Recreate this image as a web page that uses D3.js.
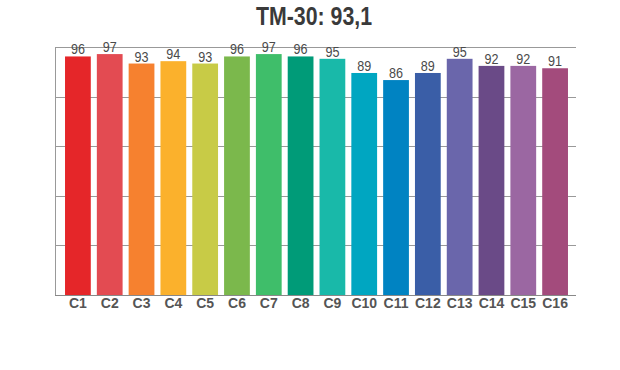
<!DOCTYPE html>
<html lang="en">
<head>
<meta charset="UTF-8">
<title>TM-30</title>
<script src="https://cdn.jsdelivr.net/npm/d3@7"></script>
<style>
  body { margin: 0; background: #fff; }
  svg { font-family: "Liberation Sans", Arial, sans-serif; }
</style>
</head>
<body>
<div id="chart"></div>
<script>
// data
const categories = ["C1","C2","C3","C4","C5","C6","C7","C8","C9","C10","C11","C12","C13","C14","C15","C16"];
const values = [96, 97, 93, 94, 93, 96, 97, 96, 95, 89, 86, 89, 95, 92, 92, 91];
const colors = ["#e52629","#e34b52","#f6812f","#fbb12c","#c8cb46","#7bb84c","#3fbe6a","#009b78",
                "#19b9a9","#00a6c1","#0083c2","#3a5ea7","#6a66ab","#6a4a87","#9b67a2","#a34b7c"];
const gridValues = [-5, 16, 37, 58, 79, 100];
const title = "TM-30: 93,1";

const W = 620, H = 370;
const plotLeft = 55, plotRight = 576, plotTop = 47, plotBottom = 295;

const svg = d3.select("#chart").append("svg")
    .attr("width", W)
    .attr("height", H);

const x = d3.scaleBand()
    .domain(categories)
    .range([62, 571])
    .paddingInner(0.19)
    .paddingOuter(0.095);

const y = d3.scaleLinear()
    .domain([-5, 100])
    .range([plotBottom, plotTop]);

// gridlines
svg.append("g")
    .selectAll("line")
    .data(gridValues)
    .join("line")
      .attr("x1", plotLeft)
      .attr("x2", plotRight)
      .attr("y1", d => Math.round(y(d)) + 0.5)
      .attr("y2", d => Math.round(y(d)) + 0.5)
      .attr("stroke", d => d === gridValues[0] ? "#888" : "#999")
      .attr("stroke-width", 1);

// left axis line
svg.append("line")
    .attr("x1", plotLeft + 0.5).attr("x2", plotLeft + 0.5)
    .attr("y1", plotTop).attr("y2", plotBottom)
    .attr("stroke", "#999");

// bars
svg.append("g")
    .selectAll("rect")
    .data(values)
    .join("rect")
      .attr("x", (d, i) => x(categories[i]))
      .attr("y", d => y(d))
      .attr("width", x.bandwidth())
      .attr("height", d => y.range()[0] - y(d))
      .attr("fill", (d, i) => colors[i]);

// value labels (slightly condensed like the original)
svg.append("g")
    .selectAll("text")
    .data(values)
    .join("text")
      .attr("transform", (d, i) => `translate(${x(categories[i]) + x.bandwidth() / 2},${y(d) - 2}) scale(0.9,1)`)
      .attr("text-anchor", "middle")
      .attr("font-size", "14px")
      .attr("fill", "#4a4a4a")
      .text(d => d);

// category labels
svg.append("g")
    .selectAll("text")
    .data(categories)
    .join("text")
      .attr("x", d => x(d) + x.bandwidth() / 2)
      .attr("y", 307.5)
      .attr("text-anchor", "middle")
      .attr("font-size", "14px")
      .attr("font-weight", "bold")
      .attr("fill", "#555")
      .text(d => d);

// title
svg.append("text")
    .attr("transform", "translate(314,25) scale(0.82,1)")
    .attr("text-anchor", "middle")
    .attr("font-size", "26px")
    .attr("font-weight", "bold")
    .attr("fill", "#3a3a3a")
    .text(title);
</script>
</body>
</html>
